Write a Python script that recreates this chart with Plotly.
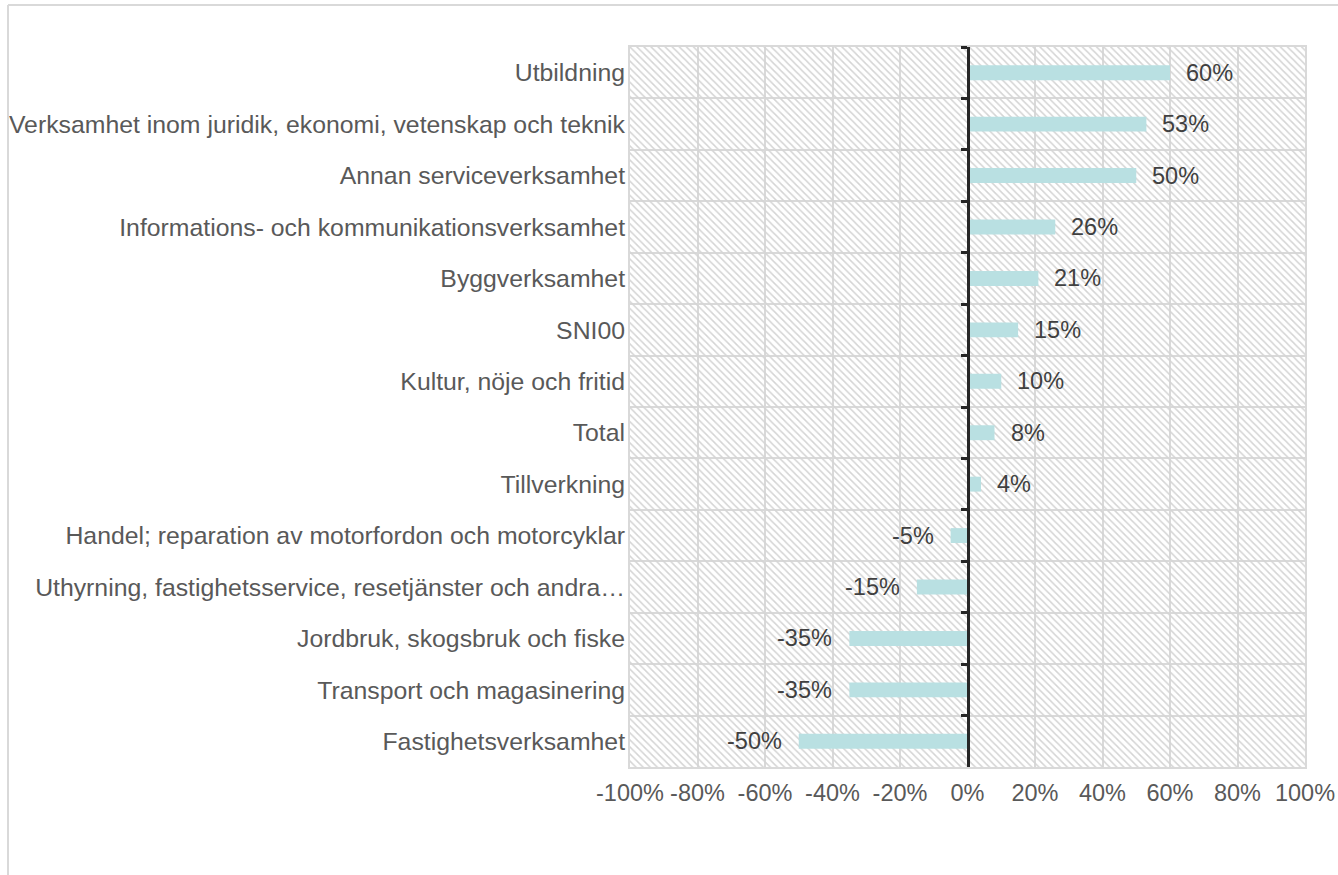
import plotly.graph_objects as go

categories = [
    "Utbildning",
    "Verksamhet inom juridik, ekonomi, vetenskap och teknik",
    "Annan serviceverksamhet",
    "Informations- och kommunikationsverksamhet",
    "Byggverksamhet",
    "SNI00",
    "Kultur, nöje och fritid",
    "Total",
    "Tillverkning",
    "Handel; reparation av motorfordon och motorcyklar",
    "Uthyrning, fastighetsservice, resetjänster och andra…",
    "Jordbruk, skogsbruk och fiske",
    "Transport och magasinering",
    "Fastighetsverksamhet",
]
values = [0.60, 0.53, 0.50, 0.26, 0.21, 0.15, 0.10, 0.08, 0.04, -0.05, -0.15, -0.35, -0.35, -0.50]
x_tick_values = [-1.0, -0.8, -0.6, -0.4, -0.2, 0.0, 0.2, 0.4, 0.6, 0.8, 1.0]
x_tick_labels = ["-100%", "-80%", "-60%", "-40%", "-20%", "0%", "20%", "40%", "60%", "80%", "100%"]
x_range = [-1.0, 1.0]

W, H = 1338, 875
ML, MR, MT, MB = 630, 33, 47, 108
PW, PH = W - ML - MR, H - MT - MB

FONT = "Liberation Sans, Arial, sans-serif"
FS = 23.5
FS_Y = 24.8
AXIS_COLOR = "#595959"
LABEL_COLOR = "#404040"
GRID = "#d9d9d9"
BAR_COLOR = "#b9e0e2"

fig = go.Figure()

# hatched plot background
fig.add_trace(go.Bar(
    y=categories, x=[x_range[1] - x_range[0]] * len(categories), base=x_range[0],
    orientation="h", width=1, yaxis="y",
    marker=dict(color="rgba(0,0,0,0)", line=dict(width=0),
                pattern=dict(shape="\\", fgcolor="#d4d4d4", bgcolor="rgba(0,0,0,0)",
                             size=5, solidity=0.3)),
    hoverinfo="skip", showlegend=False,
))

fig.add_trace(go.Bar(
    y=categories, x=values, orientation="h", width=0.29, yaxis="y2",
    marker=dict(color=BAR_COLOR, line=dict(width=0)),
    showlegend=False,
))

annotations = []
for c, v in zip(categories, values):
    annotations.append(dict(
        x=v, y=c, xref="x", yref="y2", text=f"{round(v*100):d}%", showarrow=False,
        xanchor="left" if v >= 0 else "right", xshift=14 if v >= 0 else -15,
        font=dict(family=FONT, size=FS, color=LABEL_COLOR),
    ))

def px_x(px):
    return (px - ML) / PW

def px_y(py):
    return (H - MB - py) / PH

shapes = [
    dict(type="line", xref="paper", yref="paper", x0=px_x(8), x1=px_x(W + 5),
         y0=px_y(5), y1=px_y(5), line=dict(color=GRID, width=2)),
    dict(type="line", xref="paper", yref="paper", x0=px_x(8), x1=px_x(8),
         y0=px_y(5), y1=px_y(H + 5), line=dict(color=GRID, width=2)),
]

fig.update_layout(
    template="none",
    width=W, height=H,
    margin=dict(l=ML, r=MR, t=MT, b=MB, autoexpand=False),
    paper_bgcolor="white", plot_bgcolor="white",
    barmode="overlay",
    font=dict(family=FONT, size=FS, color=AXIS_COLOR),
    xaxis=dict(range=x_range, tickmode="array", tickvals=x_tick_values, ticktext=x_tick_labels,
               showgrid=True, gridcolor=GRID, gridwidth=2, zeroline=False,
               showline=True, mirror=True, linecolor=GRID, linewidth=2,
               ticks="", tickangle=0, ticklabelstandoff=4, automargin=False,
               tickfont=dict(family=FONT, size=FS, color=AXIS_COLOR)),
    yaxis=dict(categoryorder="array", categoryarray=categories, autorange="reversed",
               showgrid=True, gridcolor=GRID, gridwidth=2, tickson="boundaries",
               ticks="", showline=True, mirror=True, linecolor=GRID, linewidth=2,
               ticklabelstandoff=-2, automargin=False, zeroline=False,
               tickfont=dict(family=FONT, size=FS_Y, color=AXIS_COLOR)),
    yaxis2=dict(overlaying="y", anchor="free", position=0.5, side="left",
                categoryorder="array", categoryarray=categories, autorange="reversed",
                showgrid=False, showline=True, linecolor="#262626", linewidth=2.5,
                ticks="outside", tickson="boundaries", ticklen=6, tickwidth=2.5,
                tickcolor="#262626", showticklabels=False, zeroline=False,
                automargin=False),
    annotations=annotations,
    shapes=shapes,
    hovermode=False,
)

fig.write_html("out.html", config={"displayModeBar": False},
               post_script="document.body.style.margin='0';document.body.style.overflow='hidden';")
